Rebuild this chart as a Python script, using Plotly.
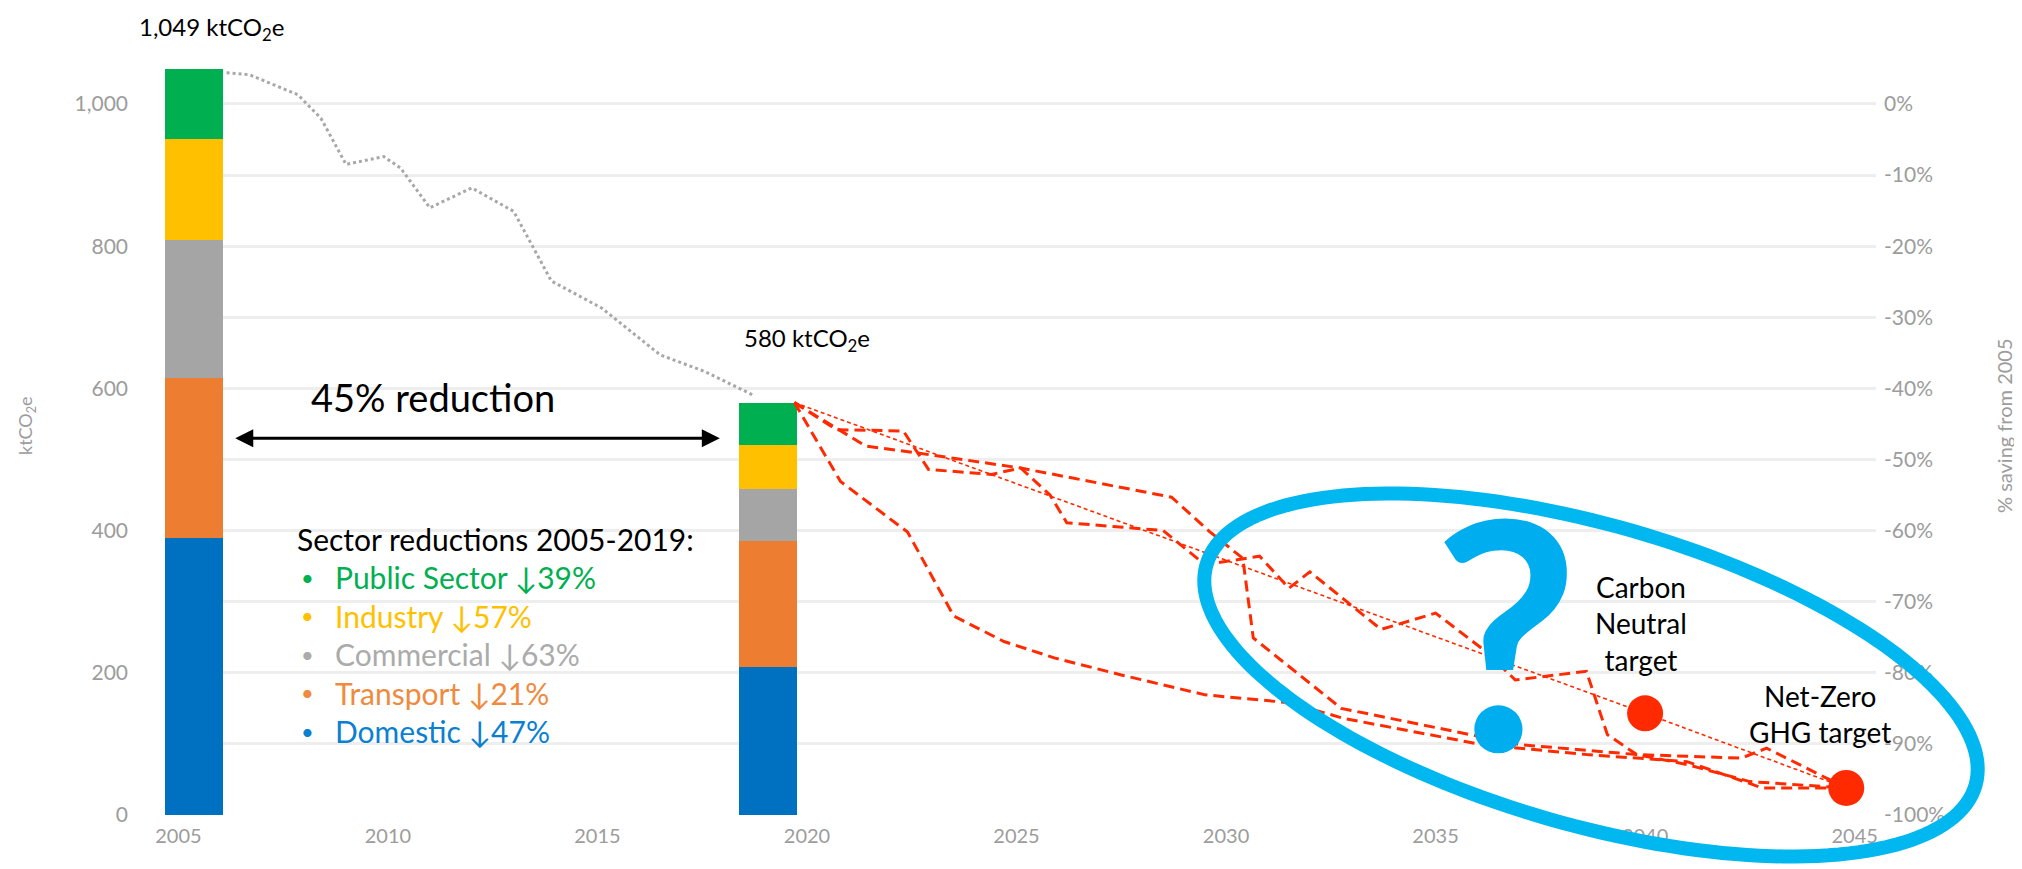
import numpy as np
import plotly.graph_objects as go

# ---------------- data ----------------
bar_years = [2005, 2019]
domestic = [390, 208]
transport = [225, 178]
commercial = [193, 72]
industry = [143, 62]
public_sector = [98, 60]

# historical emissions (grey dotted line between the two bars)
hist_years = [2006.15, 2006.7, 2007.85, 2008.4, 2009.0, 2009.9, 2010.3, 2011.0,
              2012.0, 2013.0, 2013.9, 2015.1, 2016.5, 2017.55, 2018.7]
hist_values = [1044, 1041, 1013, 980, 915, 926, 910, 854,
               882, 849, 751, 713, 647, 624, 591]

# future pathway scenarios (red dashed)
scen_a_years = [2019.7, 2020.7, 2022.3, 2022.9, 2024.4, 2025.1, 2025.8, 2026.2,
                2028.5, 2029.5, 2030.8, 2031.5, 2032.0, 2033.7, 2035.0, 2036.2,
                2036.9, 2038.6, 2039.1, 2039.8, 2042.3, 2042.9, 2044.8]
scen_a_values = [580, 542, 540, 486, 479, 488, 450, 411,
                 400, 352, 364, 319, 342, 261, 284, 230,
                 190, 202, 113, 85, 80, 94, 38]

scen_b_years = [2019.7, 2021.4, 2022.65, 2025.1, 2028.7, 2029.6, 2030.4, 2030.65,
                2032.75, 2036.25, 2037.0, 2039.8, 2041.0, 2042.5, 2044.8]
scen_b_values = [580, 519, 509, 488, 447, 399, 361, 249,
                 150, 108, 99, 85, 71, 47, 38]

scen_c_years = [2019.7, 2020.8, 2022.4, 2023.5, 2024.7, 2025.9, 2027.5, 2029.5,
                2031.5, 2032.8, 2036.1, 2038.6, 2041.0, 2042.8, 2044.8]
scen_c_values = [580, 469, 398, 280, 244, 221, 197, 169,
                 158, 136, 99, 85, 75, 38, 38]

linear_years = [2019.7, 2040.0, 2044.8]
linear_values = [580, 143, 38]

target_years = [2040.0, 2044.8]
target_values = [143, 38]

x_tick_years = [2005, 2010, 2015, 2020, 2025, 2030, 2035, 2040, 2045]
left_tick_values = [0, 200, 400, 600, 800, 1000]
right_tick_pcts = [-100, -90, -80, -70, -60, -50, -40, -30, -20, -10, 0]

# ---------------- layout constants ----------------
W, H = 2022, 869
L, R, T, B = 157, 154, 28, 62
PW, PH = W - L - R, H - T - B
X_RANGE = [2004.68, 2045.51]
Y_MAX = 1095.6

def paper_x(px):
    return (px - L) / PW

def paper_y(py):
    return 1 - (py - T) / PH

FONT = "Lato"
GREY_TXT = "#9C9C9C"
GRID = "#EEEEEE"
RED = "#FF2A00"
CYAN = "#00B7F0"
C_DOM, C_TRA, C_COM, C_IND, C_PUB = "#0070C0", "#ED7D31", "#A5A5A5", "#FFC000", "#00B050"

fig = go.Figure()

bar_kw = dict(width=1.38, offset=[-0.32, -0.63], marker_line_width=0,
              hoverinfo="skip", showlegend=False)
for vals, col, name in [(domestic, C_DOM, "Domestic"), (transport, C_TRA, "Transport"),
                        (commercial, C_COM, "Commercial"), (industry, C_IND, "Industry"),
                        (public_sector, C_PUB, "Public Sector")]:
    fig.add_trace(go.Bar(x=bar_years, y=vals, marker_color=col, name=name, **bar_kw))

fig.add_trace(go.Scatter(x=hist_years, y=hist_values, mode="lines",
                         line=dict(color="#A8A8A8", width=3, dash="3px,3px"),
                         showlegend=False, hoverinfo="skip"))
fig.add_trace(go.Scatter(x=linear_years, y=linear_values, mode="lines",
                         line=dict(color=RED, width=1.6, dash="4px,3px"),
                         showlegend=False, hoverinfo="skip"))
for xs, ys in [(scen_a_years, scen_a_values), (scen_b_years, scen_b_values),
               (scen_c_years, scen_c_values)]:
    fig.add_trace(go.Scatter(x=xs, y=ys, mode="lines",
                             line=dict(color=RED, width=3, dash="11px,6px"),
                             showlegend=False, hoverinfo="skip"))
fig.add_trace(go.Scatter(x=target_years, y=target_values, mode="markers",
                         marker=dict(color=RED, size=36, line_width=0),
                         showlegend=False, hoverinfo="skip"))

# invisible trace to carry the secondary (percentage) axis
totals = [sum(v) for v in zip(domestic, transport, commercial, industry, public_sector)]
fig.add_trace(go.Scatter(x=bar_years, y=[(t / 1000 - 1) * 100 for t in totals],
                         yaxis="y2", mode="markers", marker=dict(opacity=0),
                         showlegend=False, hoverinfo="skip"))

# ---------------- rotated ellipse ----------------
E_CX, E_CY, E_A, E_B, E_ANG = 1583, 667, 400, 150, np.deg2rad(16)
t = np.linspace(0, 2 * np.pi, 181)
ex = E_CX + E_A * np.cos(t) * np.cos(E_ANG) - E_B * np.sin(t) * np.sin(E_ANG)
ey = E_CY + E_A * np.cos(t) * np.sin(E_ANG) + E_B * np.sin(t) * np.cos(E_ANG)
path = "M " + " L ".join(f"{paper_x(a):.5f},{paper_y(b):.5f}" for a, b in zip(ex, ey)) + " Z"
fig.add_shape(type="path", path=path, xref="paper", yref="paper",
              line=dict(color=CYAN, width=14), layer="above")

ann = []

def ptext(px, py, text, size, color="#000000", xanchor="center", **kw):
    ann.append(dict(x=paper_x(px), y=paper_y(py), xref="paper", yref="paper",
                    xanchor=xanchor, yanchor="middle", text=text, showarrow=False,
                    font=dict(family=FONT, size=size, color=color), **kw))

# totals above bars
for yr, tot, dx, dy in [(bar_years[0], totals[0], 33, 41), (bar_years[1], totals[1], 42, 63)]:
    ann.append(dict(x=yr, y=tot, xref="x", yref="y", xshift=dx, yshift=dy,
                    xanchor="center", yanchor="middle",
                    text=f"{tot:,} ktCO<sub>2</sub>e", showarrow=False,
                    font=dict(family=FONT, size=24, color="#000000")))

# double arrow
ann.append(dict(x=2017.92, y=530, ax=2006.32, ay=530, xref="x", yref="y",
                axref="x", ayref="y", text="", showarrow=True,
                arrowhead=2, startarrowhead=2, arrowside="end+start",
                arrowsize=1.2, startarrowsize=1.2, arrowwidth=3, arrowcolor="#000000"))
red_pct = round((1 - totals[1] / totals[0]) * 100)
ptext(425, 389, f"{red_pct}% reduction", 38)

# sector reductions block
ptext(287, 531, "Sector reductions 2005-2019:", 30, xanchor="left")
rows = [("Public Sector", public_sector, C_PUB), ("Industry", industry, C_IND),
        ("Commercial", commercial, "#ABABAB"), ("Transport", transport, "#F08A3E"),
        ("Domestic", domestic, "#0B7FD0")]
for i, (name, vals, col) in enumerate(rows):
    pct = round((1 - vals[1] / vals[0]) * 100)
    yy = 569 + i * 38.5
    ptext(299, yy, "•", 22, color=col)
    ptext(325, yy, f"{name} ↓{pct}%", 30, color=col, xanchor="left")

# target labels
ann.append(dict(x=target_years[0], y=target_values[0], xref="x", yref="y",
                xshift=-4, yshift=90, xanchor="center", yanchor="middle",
                text="Carbon<br>Neutral<br>target", showarrow=False,
                font=dict(family=FONT, size=28, color="#000000")))
ann.append(dict(x=target_years[1], y=target_values[1], xref="x", yref="y",
                xshift=-26, yshift=74, xanchor="center", yanchor="middle",
                text="Net-Zero<br>GHG target", showarrow=False,
                font=dict(family=FONT, size=28, color="#000000")))

# question mark
ptext(1498, 620, "<b>?</b>", 318, color="#00AEEF")

# axis titles
ptext(18, 418, "ktCO<sub>2</sub>e", 18, color=GREY_TXT, textangle=-90)
ptext(1996, 418, "% saving from 2005", 20, color=GREY_TXT, textangle=-90)

fig.update_layout(
    width=W, height=H,
    margin=dict(l=L, r=R, t=T, b=B, autoexpand=False),
    paper_bgcolor="white", plot_bgcolor="white",
    barmode="stack", showlegend=False,
    annotations=ann,
    xaxis=dict(range=X_RANGE, tickvals=x_tick_years, showgrid=False, zeroline=False,
               showline=False, ticks="", ticklabelstandoff=7,
               tickfont=dict(family=FONT, size=20, color=GREY_TXT)),
    yaxis=dict(range=[0, Y_MAX], tickvals=left_tick_values, tickformat=",d",
               showgrid=True, gridcolor=GRID, gridwidth=3, zeroline=False,
               showline=False, ticks="", ticklabelstandoff=36,
               minor=dict(dtick=100, showgrid=True, gridcolor=GRID, gridwidth=3),
               tickfont=dict(family=FONT, size=21, color=GREY_TXT)),
    yaxis2=dict(overlaying="y", side="right", range=[-100, Y_MAX / 10 - 100],
                tickvals=right_tick_pcts, ticktext=[f"{p}%" for p in right_tick_pcts],
                showgrid=False, zeroline=False, showline=False, ticks="",
                ticklabelstandoff=7,
                tickfont=dict(family=FONT, size=21, color=GREY_TXT)),
)

fig.write_html("out.html")
